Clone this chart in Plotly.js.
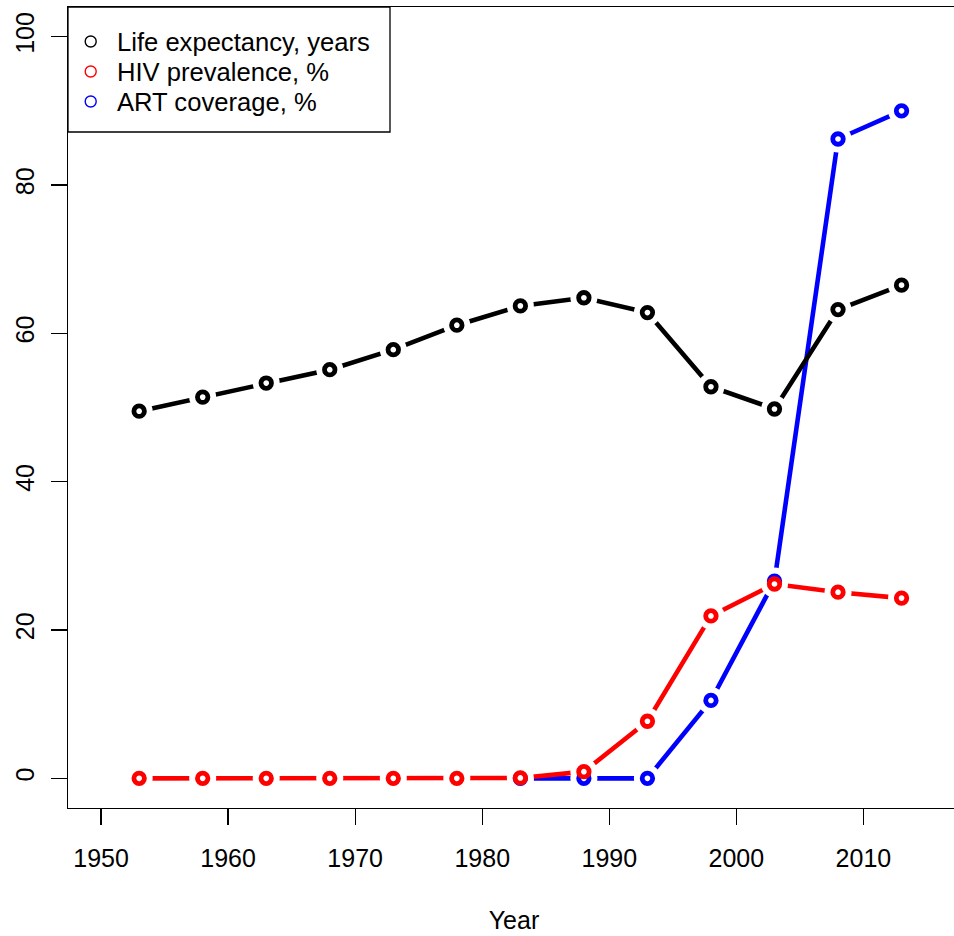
<!DOCTYPE html>
<html>
<head>
<meta charset="utf-8">
<script src="https://cdn.plot.ly/plotly-3.0.1.min.js"></script>
<style>
html,body{margin:0;padding:0;overflow:hidden;background:#fff;}
#chart{width:962px;height:936px;}
</style>
</head>
<body>
<div id="chart"></div>
<script>
const years = [1953, 1958, 1963, 1968, 1973, 1978, 1983, 1988, 1993, 1998, 2003, 2008, 2013];
const lifeExpectancy = [49.5, 51.4, 53.3, 55.1, 57.8, 61.1, 63.7, 64.8, 62.8, 52.8, 49.8, 63.2, 66.5];
const hivPrevalence = [0, 0, 0, 0, 0, 0, 0.05, 0.9, 7.7, 21.9, 26.2, 25.1, 24.3];
const artYears = [1983, 1988, 1993, 1998, 2003, 2008, 2013];
const artCoverage = [0, 0, 0, 10.5, 26.6, 86.2, 90.0];
const seriesNames = ["Life expectancy, years", "HIV prevalence, %", "ART coverage, %"];
const xTicks = [1950, 1960, 1970, 1980, 1990, 2000, 2010];
const yTicks = [0, 20, 40, 60, 80, 100];

const BLUE = "#0000ff", RED = "#ff0000", BLACK = "#000000";
const FONT = "Liberation Sans, Arial, Helvetica, sans-serif";
const series = [
  {x: artYears, y: artCoverage, c: BLUE},
  {x: years, y: hivPrevalence, c: RED},
  {x: years, y: lifeExpectancy, c: BLACK}
];
const traces = [];
series.forEach(s => {
  traces.push({x: s.x, y: s.y, mode: "lines", line: {color: s.c, width: 4.6}, showlegend: false, hoverinfo: "skip"});
  traces.push({x: s.x, y: s.y, mode: "markers", marker: {symbol: "circle", size: 27, color: "#ffffff", line: {width: 0}}, showlegend: false, hoverinfo: "skip"});
});
series.forEach(s => {
  traces.push({x: s.x, y: s.y, mode: "markers", marker: {symbol: "circle", size: 10.5, color: "#ffffff", line: {color: s.c, width: 4.8}}, showlegend: false});
});

// manual legend (R-style "topleft" box)
const legendColors = [BLACK, RED, BLUE];
const rowOffsets = [34.5, 64.5, 94.5];
const shapes = [{type: "rect", xref: "paper", yref: "paper", xsizemode: "pixel", ysizemode: "pixel",
  xanchor: 0, yanchor: 1, x0: 0, x1: 322, y0: 0, y1: -125, line: {color: "#000", width: 1.3},
  fillcolor: "#fff", layer: "above"}];
const annotations = [];
seriesNames.forEach((n, i) => {
  const r = rowOffsets[i];
  shapes.push({type: "circle", xref: "paper", yref: "paper", xsizemode: "pixel", ysizemode: "pixel",
    xanchor: 0, yanchor: 1, x0: 17.2, x1: 28.2, y0: -r - 5.5, y1: -r + 5.5,
    line: {color: legendColors[i], width: 1.4}, fillcolor: "rgba(0,0,0,0)", layer: "above"});
  annotations.push({xref: "paper", yref: "paper", x: 0, y: 1, xshift: 47, yshift: -r,
    xanchor: "left", yanchor: "middle", showarrow: false, text: n,
    font: {family: FONT, size: 25.6, color: "#000"}});
});

const layout = {
  width: 962, height: 936,
  margin: {l: 68, r: 2, t: 7, b: 128},
  paper_bgcolor: "#fff", plot_bgcolor: "#fff",
  font: {family: FONT, color: "#000", size: 25},
  showlegend: false,
  shapes: shapes,
  annotations: annotations,
  xaxis: {range: [1947.4, 2017.6], tickmode: "array", tickvals: xTicks, ticktext: xTicks.map(String),
    showgrid: false, zeroline: false, showline: true, mirror: true, linecolor: "#000", linewidth: 1.3,
    ticks: "outside", ticklen: 16, tickwidth: 1.3, tickcolor: "#000", tickfont: {size: 25},
    ticklabelstandoff: 12,
    title: {text: "Year", font: {size: 25}, standoff: 40}},
  yaxis: {range: [-4, 104], tickmode: "array", tickvals: yTicks, ticktext: yTicks.map(String),
    showgrid: false, zeroline: false, showline: true, mirror: true, linecolor: "#000", linewidth: 1.3,
    ticks: "outside", ticklen: 16, tickwidth: 1.3, tickcolor: "#000", tickangle: -90, tickfont: {size: 25},
    ticklabelstandoff: 7}
};
Plotly.newPlot("chart", traces, layout, {displayModeBar: false, staticPlot: true});
</script>
</body>
</html>
